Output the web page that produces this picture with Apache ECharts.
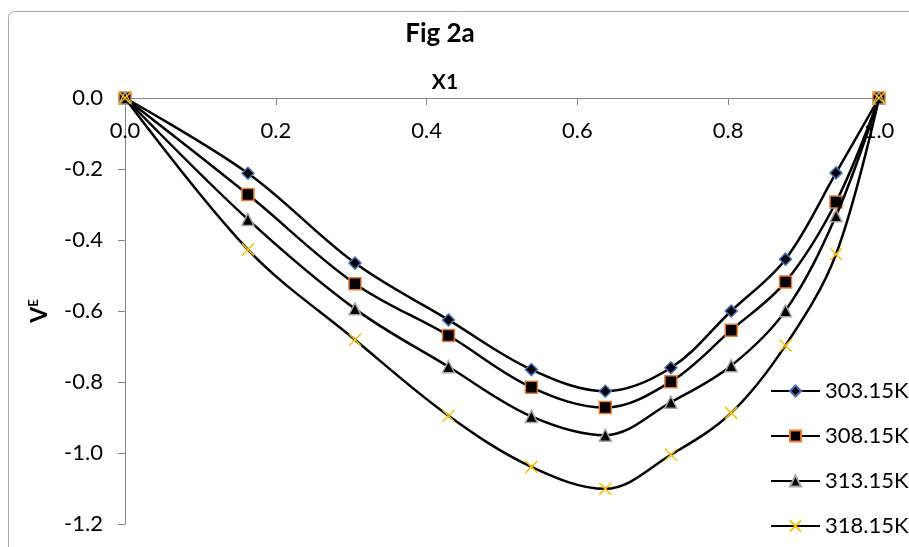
<!DOCTYPE html>
<html>
<head>
<meta charset="utf-8">
<script src="https://cdn.jsdelivr.net/npm/echarts@6/dist/echarts.min.js"></script>
<style>
html,body{margin:0;padding:0;background:#fff;}
#chart{width:909px;height:547px;}
</style>
</head>
<body>
<div id="chart"></div>
<script>
// ---- data ----
const x1 = [0, 0.163, 0.305, 0.429, 0.539, 0.637, 0.724, 0.804, 0.876, 0.943, 1.0];
const seriesNames = ['303.15K', '308.15K', '313.15K', '318.15K'];
const v303 = [0, -0.212, -0.465, -0.625, -0.765, -0.826, -0.760, -0.600, -0.454, -0.211, 0];
const v308 = [0, -0.272, -0.523, -0.669, -0.815, -0.872, -0.799, -0.654, -0.518, -0.293, 0];
const v313 = [0, -0.342, -0.594, -0.757, -0.897, -0.950, -0.857, -0.754, -0.599, -0.332, 0];
const v318 = [0, -0.427, -0.681, -0.895, -1.039, -1.101, -1.005, -0.887, -0.697, -0.440, 0];
const xTicks = [0, 0.2, 0.4, 0.6, 0.8, 1.0];
const yTicks = [0, -0.2, -0.4, -0.6, -0.8, -1.0, -1.2];

const FONT = 'Lato';
const pair = (ys) => x1.map((x, i) => [x, ys[i]]);
const markers = [
  {symbol: 'diamond', size: 12, fill: '#000', border: '#4472C4', bw: 1.5},
  {symbol: 'rect', size: 12, fill: '#000', border: '#ED7D31', bw: 1.5},
  {symbol: 'triangle', size: 12, fill: '#000', border: '#A5A5A5', bw: 1.5},
  {symbol: 'path://M0,0L10,10M10,0L0,10', size: 12, fill: 'rgba(0,0,0,0)', border: '#FFC000', bw: 1.5}
];
const allData = [v303, v308, v313, v318];

const chart = echarts.init(document.getElementById('chart'), null, {renderer: 'canvas'});
chart.setOption({
  backgroundColor: '#fff',
  animation: false,
  title: {
    text: 'Fig 2a',
    left: 440, top: 21, textAlign: 'center', padding: 0,
    textStyle: {fontFamily: FONT, fontSize: 26, fontWeight: 'bold', color: '#000'}
  },
  graphic: [{
    type: 'rect', silent: true,
    shape: {x: 8.5, y: 11.5, width: 1000, height: 1000, r: 6},
    style: {fill: 'none', stroke: '#A6A6A6', lineWidth: 1}
  }],
  grid: {left: 125, right: 30, top: 98, bottom: 23, containLabel: false},
  legend: {
    orient: 'vertical',
    left: 770, top: 380, padding: 0,
    itemWidth: 49, itemHeight: 14, itemGap: 23,
    textStyle: {fontFamily: FONT, fontSize: 22, color: '#000', lineHeight: 22},
    data: seriesNames
  },
  xAxis: {
    type: 'value', position: 'top',
    min: 0, max: 1, interval: 0.2,
    name: 'X1', nameLocation: 'middle', nameGap: -1,
    nameTextStyle: {fontFamily: FONT, fontSize: 21, fontWeight: 'bold', color: '#000', padding: [0, 114, 0, 0]},
    axisLine: {onZero: false, lineStyle: {color: '#868686', width: 1}},
    axisTick: {show: true, inside: true, length: 7, lineStyle: {color: '#868686'}},
    axisLabel: {inside: true, margin: 22, fontFamily: FONT, fontSize: 22, color: '#000',
      formatter: v => xTicks.some(t => Math.abs(t - v) < 1e-9) ? v.toFixed(1) : ''},
    splitLine: {show: false}
  },
  yAxis: {
    type: 'value',
    min: -1.2, max: 0, interval: 0.2,
    name: '{v|V}{e|E}', nameLocation: 'middle', nameGap: 74, nameRotate: 90,
    nameTextStyle: {
      rich: {
        v: {fontFamily: FONT, fontSize: 23, fontWeight: 'bold', color: '#000', verticalAlign: 'bottom', lineHeight: 24},
        e: {fontFamily: FONT, fontSize: 13, fontWeight: 'bold', color: '#000', verticalAlign: 'top', lineHeight: 24}
      }
    },
    axisLine: {show: true, onZero: false, lineStyle: {color: '#868686', width: 1}},
    axisTick: {show: true, inside: false, length: 7, lineStyle: {color: '#868686'}},
    axisLabel: {margin: 22, fontFamily: FONT, fontSize: 22, color: '#000',
      formatter: v => yTicks.some(t => Math.abs(t - v) < 1e-9) ? v.toFixed(1) : ''},
    splitLine: {show: false}
  },
  series: allData.map((d, i) => ({
    name: seriesNames[i],
    type: 'line',
    data: pair(d),
    smooth: 0.35,
    symbol: markers[i].symbol,
    symbolSize: markers[i].size,
    showAllSymbol: true,
    lineStyle: {color: '#000', width: 2.5},
    itemStyle: {color: markers[i].fill, borderColor: markers[i].border, borderWidth: markers[i].bw},
    z: 2 + i
  }))
});
</script>
</body>
</html>
